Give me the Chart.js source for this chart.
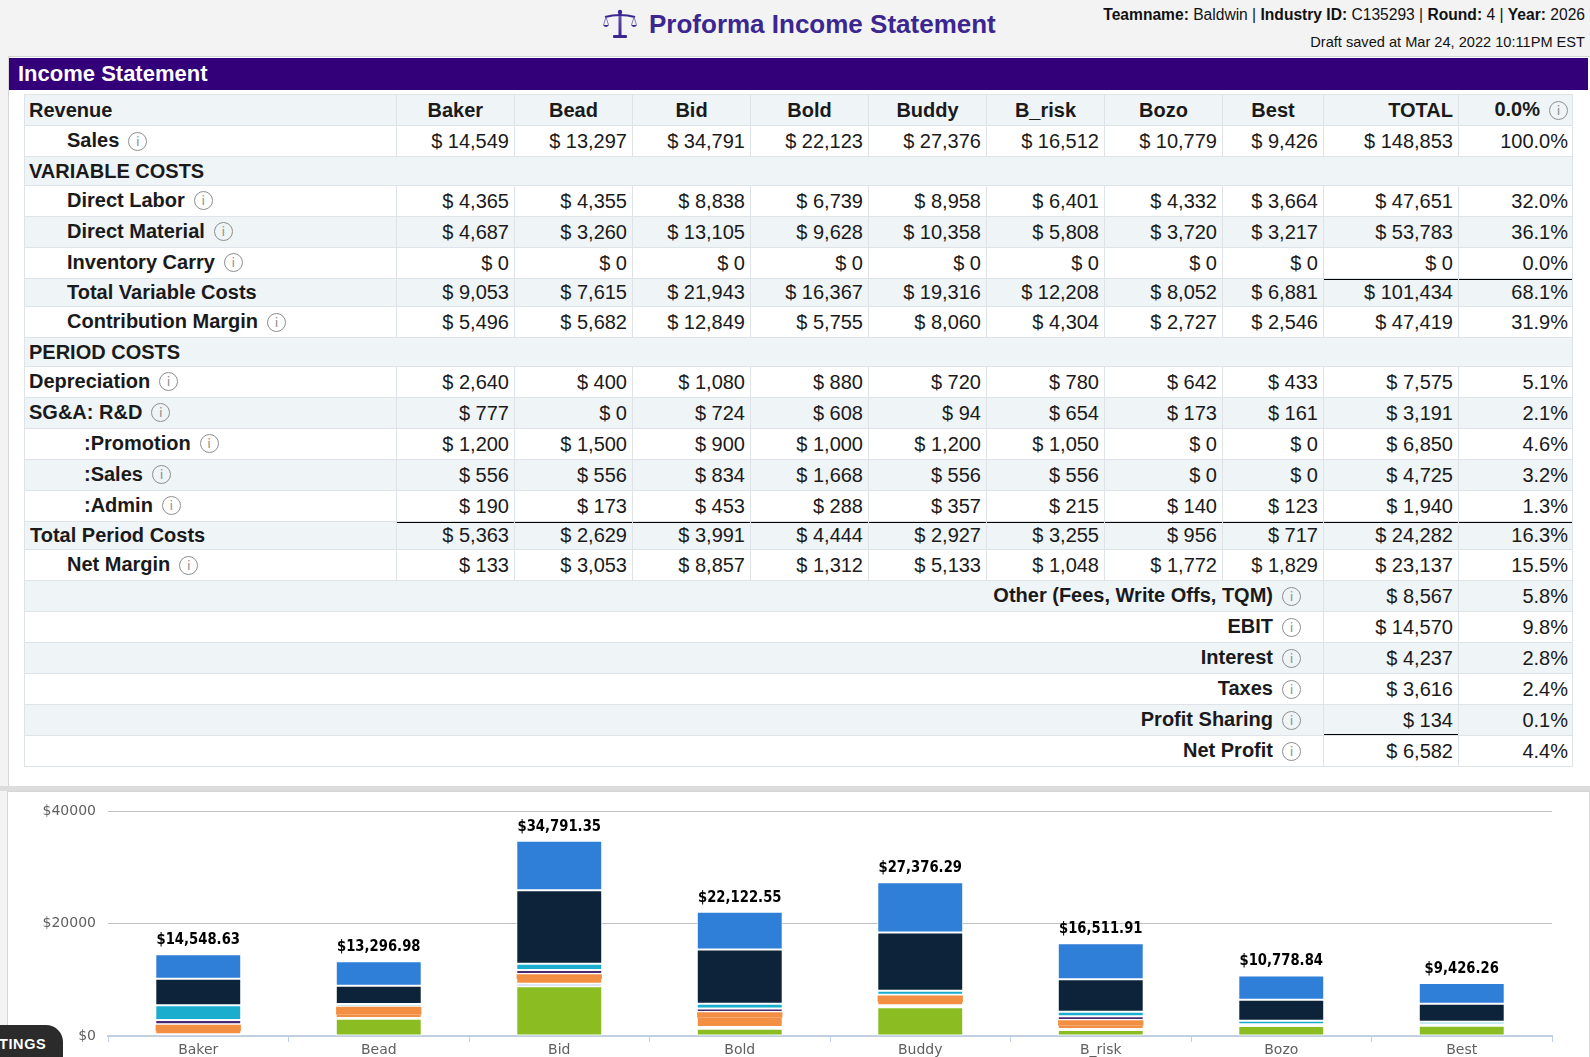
<!DOCTYPE html>
<html><head><meta charset="utf-8">
<script src="https://cdn.jsdelivr.net/npm/chart.js@4.4.1/dist/chart.umd.min.js"></script>
<style>
html,body{margin:0;padding:0;}
body{width:1590px;height:1057px;overflow:hidden;background:#f3f3f3;position:relative;font-family:"Liberation Sans",Arial,sans-serif;color:#1a1a1a;}
#title{position:absolute;left:649px;top:8px;font-size:26px;font-weight:bold;color:#3c2690;white-space:nowrap;line-height:32px;}
#icon{position:absolute;left:603px;top:9px;}
.info{position:absolute;right:5px;white-space:nowrap;line-height:18px;color:#111;}
#info1{top:6px;font-size:15.6px;}
#info2{top:33px;font-size:14.6px;}
#panel{position:absolute;left:8px;top:56px;width:1582px;height:730px;background:#fff;border-top:1px solid #d6d6d6;border-left:1px solid #d6d6d6;box-sizing:border-box;}
#bar{position:absolute;left:9px;top:58px;width:1579px;height:32px;background:#33007a;color:#fff;font-weight:bold;font-size:22px;line-height:32px;padding-left:9px;box-sizing:border-box;}
#gap{position:absolute;left:0;top:786px;width:1590px;height:5px;background:#dcdcdc;}
#cpanel{position:absolute;left:7px;top:791px;width:1583px;height:280px;background:#fff;border:1px solid #d6d6d6;box-sizing:border-box;}
#tbl{position:absolute;left:24px;top:94px;border-collapse:collapse;table-layout:fixed;width:1548px;font-size:20px;}
#tbl td{border:1px solid #dde3e8;padding:0 5px;line-height:20px;vertical-align:middle;white-space:nowrap;overflow:visible;}
#tbl tr.l td{background:#eff4f7;}
#tbl tr.w td{background:#fff;}
#tbl td.lab{font-weight:bold;text-align:left;padding-left:4px;}
#tbl td.num{text-align:right;}
#tbl td.hd{font-weight:bold;text-align:center;}
#tbl td.hr{font-weight:bold;text-align:right;}
#tbl td.blab{font-weight:bold;text-align:right;padding-right:22px;}
#tbl td.bt{box-shadow:inset 0 1px 0 #000;}
#tbl td.bb{box-shadow:inset 0 -1px 0 #000;}
.ic{display:inline-block;width:17px;height:17px;border:1.5px solid #8e8e8e;border-radius:50%;font:13px "DejaVu Sans",sans-serif;color:#8e8e8e;text-align:center;line-height:17px;vertical-align:middle;position:relative;top:-1px;margin-left:9px;font-weight:normal;}
#settings{position:absolute;left:-40px;top:1025px;width:103px;height:45px;background:#2b2b2b;border-radius:0 17px 0 0;color:#fff;font-weight:bold;font-size:14.5px;letter-spacing:0.6px;line-height:38px;padding-left:9px;box-sizing:border-box;}
#chartWrap{position:absolute;left:0;top:791px;width:1590px;height:285px;}
</style></head>
<body>
<svg id="icon" width="34" height="30" viewBox="0 0 34 30">
 <defs><linearGradient id="g" x1="0" y1="0" x2="0" y2="1"><stop offset="0" stop-color="#6a58b8"/><stop offset="1" stop-color="#3c2690"/></linearGradient></defs>
 <rect x="15.5" y="3" width="3" height="24" fill="url(#g)"/>
 <rect x="10" y="26" width="14" height="3" rx="1" fill="#3c2690"/>
 <path d="M2 8 Q17 4 32 8" stroke="#3c2690" stroke-width="2" fill="none"/>
 <circle cx="17" cy="3" r="2.2" fill="#3c2690"/>
 <path d="M3 8 L0.5 16 M3 8 L5.5 16 M31 8 L28.5 16 M31 8 L33.5 16" stroke="#6a58b8" stroke-width="0.8"/>
 <path d="M0 16 Q3 20 6 16 Z M28 16 Q31 20 34 16 Z" fill="#3c2690"/>
</svg>
<div id="title">Proforma Income Statement</div>
<div class="info" id="info1"><b>Teamname:</b> Baldwin | <b>Industry ID:</b> C135293 | <b>Round:</b> 4 | <b>Year:</b> 2026</div>
<div class="info" id="info2">Draft saved at Mar 24, 2022 10:11PM EST</div>
<div id="panel"></div>
<div id="bar">Income Statement</div>
<table id="tbl"></table>
<div id="gap"></div>
<div id="cpanel"></div>
<div id="chartWrap"><canvas id="c"></canvas></div>
<div id="settings">SETTINGS</div>
<script>
// ---- data ----
const products = ['Baker','Bead','Bid','Bold','Buddy','B_risk','Bozo','Best'];
const salesRevenue   = [14549,13297,34791,22123,27376,16512,10779,9426];
const directLabor    = [4365,4355,8838,6739,8958,6401,4332,3664];
const directMaterial = [4687,3260,13105,9628,10358,5808,3720,3217];
const inventoryCarry = [0,0,0,0,0,0,0,0];
const totalVariable  = [9053,7615,21943,16367,19316,12208,8052,6881];
const contribution   = [5496,5682,12849,5755,8060,4304,2727,2546];
const depreciation   = [2640,400,1080,880,720,780,642,433];
const rnd            = [777,0,724,608,94,654,173,161];
const promotion      = [1200,1500,900,1000,1200,1050,0,0];
const salesExpense   = [556,556,834,1668,556,556,0,0];
const admin          = [190,173,453,288,357,215,140,123];
const totalPeriod    = [5363,2629,3991,4444,2927,3255,956,717];
const netMargin      = [133,3053,8857,1312,5133,1048,1772,1829];
// TOTAL column and percent column (per row, in table order of product rows)
const totalCol = [148853,47651,53783,0,101434,47419,7575,3191,6850,4725,1940,24282,23137];
const pctCol   = ['100.0%','32.0%','36.1%','0.0%','68.1%','31.9%','5.1%','2.1%','4.6%','3.2%','1.3%','16.3%','15.5%'];
const bottomLabels = ['Other (Fees, Write Offs, TQM)','EBIT','Interest','Taxes','Profit Sharing','Net Profit'];
const bottomTotals = [8567,14570,4237,3616,134,6582];
const bottomPct    = ['5.8%','9.8%','2.8%','2.4%','0.1%','4.4%'];
const chartTotals = ['$14,548.63','$13,296.98','$34,791.35','$22,122.55','$27,376.29','$16,511.91','$10,778.84','$9,426.26'];
const yTicks = [0,20000,40000];

// ---- table ----
function money(v){ return '$ ' + String(v).replace(/\B(?=(\d{3})+(?!\d))/g, ','); }
const IC = '<span class="ic">i</span>';
const colW = [371.5,118.5,118,118,118,118,118,118,101,135,114];
let html = '<colgroup>' + colW.map(w=>'<col style="width:'+w+'px">').join('') + '</colgroup>';
let idx = 0;
function tr(h, cells){ const cls = (idx++ % 2 === 0) ? 'l' : 'w'; html += '<tr class="'+cls+'" style="height:'+h+'px">'+cells+'</tr>'; }
const H1 = 31, H2 = 28.5;
tr(H1, '<td class="lab">Revenue</td>' + products.map(p=>'<td class="hd">'+p+'</td>').join('') + '<td class="hr">TOTAL</td><td class="hr" style="padding-right:4px">0.0%'+IC+'</td>');
const prodRows = [
  {label:'Sales', ind:38, icon:true, vals:salesRevenue},
  {section:'VARIABLE COSTS'},
  {label:'Direct Labor', ind:38, icon:true, vals:directLabor},
  {label:'Direct Material', ind:38, icon:true, vals:directMaterial},
  {label:'Inventory Carry', ind:38, icon:true, vals:inventoryCarry},
  {label:'Total Variable Costs', ind:38, icon:false, vals:totalVariable, topTot:true},
  {label:'Contribution Margin', ind:38, icon:true, vals:contribution},
  {section:'PERIOD COSTS'},
  {label:'Depreciation', ind:0, icon:true, vals:depreciation},
  {label:'SG&amp;A: R&amp;D', ind:0, icon:true, vals:rnd},
  {label:':Promotion', ind:55, icon:true, vals:promotion},
  {label:':Sales', ind:55, icon:true, vals:salesExpense},
  {label:':Admin', ind:55, icon:true, vals:admin},
  {label:'Total Period Costs', ind:1, icon:false, vals:totalPeriod, topAll:true},
  {label:'Net Margin', ind:38, icon:true, vals:netMargin}
];
let k = 0;
prodRows.forEach(r=>{
  if (r.section){ tr(H2, '<td class="lab" colspan="11">'+r.section+'</td>'); return; }
  const bt = r.topAll ? ' bt' : '';
  const bt2 = (r.topAll || r.topTot) ? ' bt' : '';
  let cells = '<td class="lab"><span style="margin-left:'+r.ind+'px">'+r.label+'</span>'+(r.icon?IC:'')+'</td>';
  cells += r.vals.map(v=>'<td class="num'+bt+'">'+money(v)+'</td>').join('');
  cells += '<td class="num'+bt2+'">'+money(totalCol[k])+'</td><td class="num'+bt2+'" style="padding-right:4px">'+pctCol[k]+'</td>';
  k++;
  tr(r.icon ? H1 : H2, cells);
});
bottomLabels.forEach((lab,i)=>{
  const bb = (lab === 'Profit Sharing') ? ' bb' : '';
  tr(H1, '<td class="blab" colspan="9">'+lab+IC+'</td><td class="num'+bb+'">'+money(bottomTotals[i])+'</td><td class="num" style="padding-right:4px">'+bottomPct[i]+'</td>');
});
document.getElementById('tbl').innerHTML = html;

// ---- chart ----
const ORANGE = '#f28f43';
const datasets = [
  {label:'Net Margin', data:netMargin, backgroundColor:'#8bbc21'},
  {label:'Admin', data:admin, backgroundColor:'#77a1e5'},
  {label:'Sales', data:salesExpense, backgroundColor:ORANGE, borderWidth:{top:0,right:1,bottom:1,left:1}},
  {label:'Promotion', data:promotion, backgroundColor:ORANGE, borderWidth:{top:1,right:1,bottom:0,left:1}, inflateAmount:0.7},
  {label:'R&D', data:rnd, backgroundColor:'#492970'},
  {label:'Depreciation', data:depreciation, backgroundColor:'#1aadce'},
  {label:'Inventory Carry', data:inventoryCarry, backgroundColor:'#8bbc21'},
  {label:'Direct Material', data:directMaterial, backgroundColor:'#0d233a'},
  {label:'Direct Labor', data:directLabor, backgroundColor:'#2f7ed8'}
].map(d=>Object.assign({borderColor:'#ffffff', borderWidth:1, borderSkipped:false, inflateAmount:0, barPercentage:0.476, categoryPercentage:1}, d));

const totalsPlugin = {
  id:'totals',
  afterDatasetsDraw(chart){
    const ctx = chart.ctx;
    chart.data.labels.forEach((l,i)=>{
      let top = Infinity, x = 0;
      chart.data.datasets.forEach((ds,d)=>{
        const el = chart.getDatasetMeta(d).data[i];
        if (el && ds.data[i] > 0){ top = Math.min(top, el.y); x = el.x; }
      });
      ctx.save();
      ctx.translate(x, top - 14);
      ctx.scale(0.88, 1);
      ctx.font = 'bold 15px "DejaVu Sans", sans-serif';
      ctx.fillStyle = '#000'; ctx.textAlign = 'center'; ctx.textBaseline = 'middle';
      ctx.fillText(chartTotals[i], 0, 0);
      ctx.restore();
    });
  }
};

new Chart(document.getElementById('c'), {
  type:'bar',
  data:{labels:products, datasets:datasets},
  plugins:[totalsPlugin],
  options:{
    responsive:true, maintainAspectRatio:false, animation:false,
    layout:{padding:{left:0,right:38,top:18,bottom:0}},
    plugins:{legend:{display:false}, tooltip:{enabled:false}},
    scales:{
      x:{stacked:true,
         grid:{display:true, drawOnChartArea:false, drawTicks:true, tickLength:6, color:'#c0d0e0', offset:true},
         border:{display:true, color:'#c0d0e0', width:2},
         ticks:{color:'#606060', font:{family:'"DejaVu Sans"', size:14}, padding:0, maxRotation:0},
         afterFit(s){ s.height = 40; }},
      y:{stacked:true, min:0, max:40000,
         afterBuildTicks(s){ s.ticks = yTicks.map(v=>({value:v})); },
         grid:{color:(c)=> c.tick && c.tick.value === 0 ? 'rgba(0,0,0,0)' : '#c0c0c0', drawTicks:false, lineWidth:1},
         border:{display:false},
         ticks:{color:'#606060', font:{family:'"DejaVu Sans"', size:14}, padding:12, callback:(v)=>'$'+v},
         afterFit(s){ s.width = 108; }}
    }
  }
});
</script>
</body></html>
